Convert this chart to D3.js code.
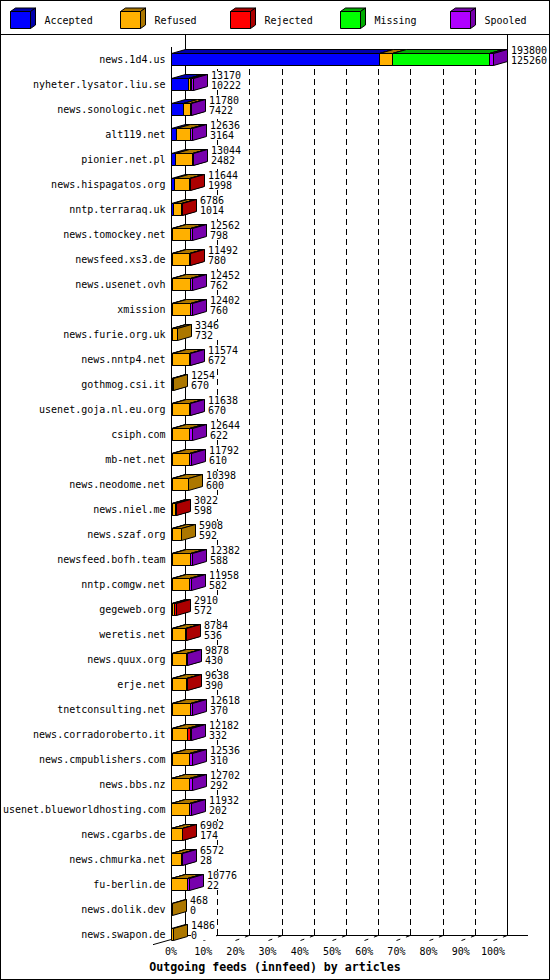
<!DOCTYPE html>
<html>
<head>
<meta charset="utf-8">
<script src="https://cdnjs.cloudflare.com/ajax/libs/d3/7.8.5/d3.min.js"></script>
<style>
    body { margin: 0; background: #fff; }
    svg text { font-family: "DejaVu Sans Mono", monospace; font-size: 10px; fill: #000; }
    svg .title { font-weight: bold; font-size: 11.6px; }
</style>
</head>
<body>
<div id="chart"></div>
<script>
var hosts = ["news.1d4.us", "nyheter.lysator.liu.se", "news.sonologic.net", "alt119.net",
    "pionier.net.pl", "news.hispagatos.org", "nntp.terraraq.uk", "news.tomockey.net",
    "newsfeed.xs3.de", "news.usenet.ovh", "xmission", "news.furie.org.uk", "news.nntp4.net",
    "gothmog.csi.it", "usenet.goja.nl.eu.org", "csiph.com", "mb-net.net", "news.neodome.net",
    "news.niel.me", "news.szaf.org", "newsfeed.bofh.team", "nntp.comgw.net", "gegeweb.org",
    "weretis.net", "news.quux.org", "erje.net", "tnetconsulting.net", "news.corradoroberto.it",
    "news.cmpublishers.com", "news.bbs.nz", "usenet.blueworldhosting.com", "news.cgarbs.de",
    "news.chmurka.net", "fu-berlin.de", "news.dolik.dev", "news.swapon.de"];

var offered  = [193800, 13170, 11780, 12636, 13044, 11644, 6786, 12562, 11492, 12452, 12402, 3346,
    11574, 1254, 11638, 12644, 11792, 10398, 3022, 5908, 12382, 11958, 2910, 8784, 9878, 9638,
    12618, 12182, 12536, 12702, 11932, 6902, 6572, 10776, 468, 1486];
var accepted = [125260, 10222, 7422, 3164, 2482, 1998, 1014, 798, 780, 762, 760, 732,
    672, 670, 670, 622, 610, 600, 598, 592, 588, 582, 572, 536, 430, 390,
    370, 332, 310, 292, 202, 174, 28, 22, 0, 0];
var refused  = [8000, 1100, 4000, 8300, 10000, 9046, 5300, 10900, 10300, 10900, 10900, 2614,
    10100, 584, 10200, 10500, 10300, 9798, 1800, 5316, 10800, 10500, 1500, 7900, 8300, 8900,
    11200, 9500, 10700, 10600, 10800, 6300, 5800, 9800, 468, 1486];
var rejected = [0, 900, 0, 0, 0, 600, 472, 0, 412, 0, 0, 0,
    0, 0, 0, 0, 0, 0, 624, 0, 0, 0, 838, 348, 0, 348,
    0, 1500, 0, 0, 0, 428, 0, 0, 0, 0];
var missing  = [58000, 0, 0, 0, 0, 0, 0, 0, 0, 0, 0, 0,
    0, 0, 0, 0, 0, 0, 0, 0, 0, 0, 0, 0, 0, 0,
    0, 0, 0, 0, 0, 0, 0, 0, 0, 0];
var spooled  = [2540, 948, 358, 1172, 562, 0, 0, 864, 0, 790, 742, 0,
    802, 0, 768, 1522, 882, 0, 0, 0, 994, 876, 0, 0, 1148, 0,
    1048, 850, 1526, 1810, 930, 0, 744, 954, 0, 0];

var seriesNames  = ["Accepted", "Refused", "Rejected", "Missing", "Spooled"];
var seriesColors = ["#0000ff", "#ffb000", "#ff0000", "#00ff00", "#b000ff"];
var tickPercents = [0, 10, 20, 30, 40, 50, 60, 70, 80, 90, 100];
var xTitle = "Outgoing feeds (innfeed) by articles";

function display() {
    var width = 550, height = 980;
    var left = 171, right = 493, firstRow = 59, lastRow = 934, floorY = 935.5;
    var dx = 14, dy = 4, half = 6;

    var x = d3.scaleLinear().domain([0, d3.max(offered)]).range([left, right]);
    var y = d3.scalePoint().domain(hosts).range([firstRow, lastRow]);
    var px = function(v) { return Math.round(x(v)) + 0.5; };
    var shade = function(c) { return d3.rgb(c).darker(1.1); };

    var table = hosts.map(function(h, i) {
        return { host: h, Accepted: accepted[i], Refused: refused[i], Rejected: rejected[i],
                 Missing: missing[i], Spooled: spooled[i] };
    });
    var stacked = d3.stack().keys(seriesNames)(table);

    var svg = d3.select("#chart").append("svg")
        .attr("width", width)
        .attr("height", height);

    svg.append("rect")
        .attr("x", 0.5).attr("y", 0.5)
        .attr("width", width - 1).attr("height", height - 1)
        .attr("fill", "#fff").attr("stroke", "#000");

    svg.append("line")
        .attr("x1", 0).attr("x2", width).attr("y1", 34.5).attr("y2", 34.5)
        .attr("stroke", "#000");

    // legend
    var legend = svg.append("g").selectAll("g")
        .data(seriesNames)
        .enter().append("g")
        .attr("transform", function(d, i) { return "translate(" + (10.5 + 110 * i) + ",11.5)"; });

    legend.append("path")
        .attr("d", "M0,0h20v17h-20z")
        .attr("fill", function(d, i) { return seriesColors[i]; })
        .attr("stroke", "#000");
    legend.append("path")
        .attr("d", "M0,0l5,-3.5h20l-5,3.5z")
        .attr("fill", function(d, i) { return shade(seriesColors[i]); })
        .attr("stroke", "#000");
    legend.append("path")
        .attr("d", "M20,0l5,-3.5v17l-5,3.5z")
        .attr("fill", function(d, i) { return shade(seriesColors[i]); })
        .attr("stroke", "#000");
    legend.append("text")
        .attr("x", 34)
        .attr("y", 12.5)
        .text(function(d) { return d; });

    // grid and walls
    var axes = svg.append("g").attr("stroke", "#000").attr("fill", "none");

    axes.selectAll(".grid")
        .data(tickPercents.slice(1, -1))
        .enter().append("line")
        .attr("x1", function(p) { return px(x.domain()[1] * p / 100) + dx; })
        .attr("x2", function(p) { return px(x.domain()[1] * p / 100) + dx; })
        .attr("y1", 49).attr("y2", floorY)
        .attr("stroke-dasharray", "6,4");

    axes.append("line")
        .attr("x1", left + dx + 0.5).attr("x2", left + dx + 0.5)
        .attr("y1", 34.5).attr("y2", floorY);
    axes.append("line")
        .attr("x1", px(x.domain()[1]) + dx).attr("x2", px(x.domain()[1]) + dx)
        .attr("y1", 34.5).attr("y2", floorY);
    axes.append("line")
        .attr("x1", left + 0.5).attr("x2", 528).attr("y1", floorY).attr("y2", floorY);
    axes.append("line")
        .attr("x1", left + 0.5).attr("x2", left + 0.5).attr("y1", 47).attr("y2", floorY + dy);
    axes.append("line")
        .attr("x1", left + dx + 0.5).attr("y1", floorY)
        .attr("x2", left - 18).attr("y2", floorY + dy + 18 * dy / dx);

    axes.selectAll(".tick")
        .data(tickPercents.slice(1))
        .enter().append("line")
        .attr("x1", function(p) { return px(x.domain()[1] * p / 100); })
        .attr("y1", floorY + dy + 1)
        .attr("x2", function(p) { return px(x.domain()[1] * p / 100) + dx; })
        .attr("y2", floorY)
        .attr("stroke-dasharray", "4,6");

    svg.selectAll(".ticklabel")
        .data(tickPercents)
        .enter().append("text")
        .attr("x", function(p) { return x(x.domain()[1] * p / 100); })
        .attr("y", 955)
        .attr("text-anchor", "middle")
        .text(function(p) { return p + "%"; });

    svg.append("text")
        .attr("class", "title")
        .attr("x", 275)
        .attr("y", 971)
        .attr("text-anchor", "middle")
        .text(xTitle);

    // bars
    stacked.forEach(function(series, si) {
        var g = svg.append("g")
            .attr("stroke", "#000")
            .attr("stroke-linejoin", "miter");
        var parts = g.selectAll("g")
            .data(series.filter(function(d) { return d[1] - d[0] > 0; }))
            .enter().append("g");

        parts.append("path")
            .attr("fill", seriesColors[si])
            .attr("d", function(d) {
                var x0 = px(d[0]), x1 = px(d[1]), yt = Math.round(y(d.data.host)) - half + 0.5;
                return "M" + x0 + "," + yt + "H" + x1 + "V" + (yt + 2 * half) + "H" + x0 + "Z";
            });
        parts.append("path")
            .attr("fill", shade(seriesColors[si]))
            .attr("d", function(d) {
                var x0 = px(d[0]), x1 = px(d[1]), yt = Math.round(y(d.data.host)) - half + 0.5;
                return "M" + x0 + "," + yt + "L" + (x0 + dx) + "," + (yt - dy) +
                    "H" + (x1 + dx) + "L" + x1 + "," + yt + "Z";
            });
        parts.append("path")
            .attr("fill", shade(seriesColors[si]))
            .attr("d", function(d) {
                var x1 = px(d[1]), yt = Math.round(y(d.data.host)) - half + 0.5;
                return "M" + x1 + "," + yt + "L" + (x1 + dx) + "," + (yt - dy) +
                    "V" + (yt + 2 * half - dy) + "L" + x1 + "," + (yt + 2 * half) + "Z";
            });
    });

    // value labels
    var labels = svg.append("g").selectAll("g")
        .data(hosts)
        .enter().append("g")
        .attr("transform", function(h, i) {
            return "translate(" + (px(offered[i]) + dx + 3.5) + "," + Math.round(y(h)) + ")";
        });

    labels.append("rect")
        .attr("x", 0)
        .attr("y", -13)
        .attr("height", 19)
        .attr("width", function(h, i) {
            return 6.02 * Math.max(String(offered[i]).length, String(accepted[i]).length) + 1;
        })
        .attr("fill", "#fff");
    labels.append("text")
        .attr("y", -5)
        .text(function(h, i) { return offered[i]; });
    labels.append("text")
        .attr("y", 5)
        .text(function(h, i) { return accepted[i]; });

    svg.append("g").selectAll("text")
        .data(hosts)
        .enter().append("text")
        .attr("x", 165.5)
        .attr("y", function(h) { return y(h) + 3.5; })
        .attr("text-anchor", "end")
        .text(function(h) { return h; });
}

display();
</script>
</body>
</html>
